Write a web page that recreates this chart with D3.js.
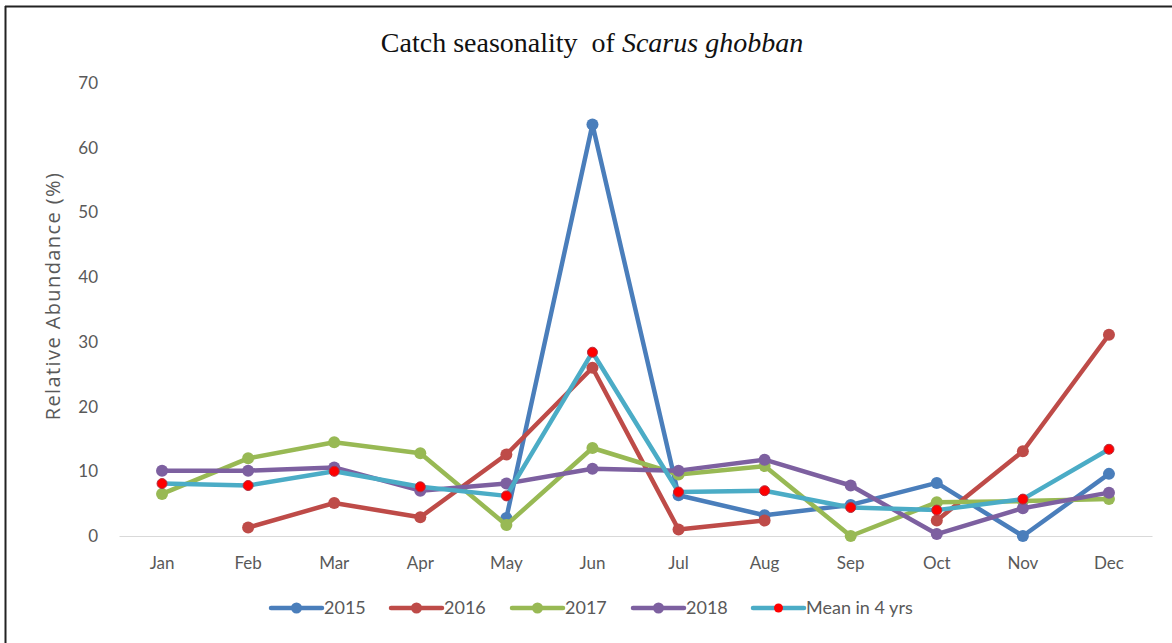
<!DOCTYPE html>
<html>
<head>
<meta charset="utf-8">
<script src="https://cdn.jsdelivr.net/npm/d3@7"></script>
<style>
  html, body { margin: 0; padding: 0; background: #fff; }
  svg { display: block; }
</style>
</head>
<body>
<svg id="chart" width="1172" height="643"></svg>
<script>
// Monthly relative abundance (%) of Scarus ghobban catches
const months = ["Jan","Feb","Mar","Apr","May","Jun","Jul","Aug","Sep","Oct","Nov","Dec"];
const yTicks = [0, 10, 20, 30, 40, 50, 60, 70];
const v2015 = [null, null, null, null, 2.8, 63.6, 6.3, 3.2, 4.8, 8.2, 0.0, 9.6];
const v2016 = [null, 1.3, 5.1, 2.9, 12.6, 26.0, 1.0, 2.4, null, 2.4, 13.1, 31.1];
const v2017 = [6.5, 12.0, 14.5, 12.8, 1.7, 13.6, 9.5, 10.8, 0.0, 5.2, 5.4, 5.7];
const v2018 = [10.1, 10.1, 10.6, 7.0, 8.1, 10.4, 10.1, 11.8, 7.8, 0.3, 4.3, 6.7];
const vMean = [8.1, 7.8, 10.0, 7.6, 6.2, 28.4, 6.8, 7.0, 4.4, 4.0, 5.7, 13.4];

const series = [
  { name: "2015", values: v2015, color: "#4a7ebb", dot: "#4a7ebb" },
  { name: "2016", values: v2016, color: "#be4b48", dot: "#be4b48" },
  { name: "2017", values: v2017, color: "#98b954", dot: "#98b954" },
  { name: "2018", values: v2018, color: "#7d60a0", dot: "#7d60a0" },
  { name: "Mean in 4 yrs", values: vMean, color: "#4bacc6", dot: "#ff0000" }
];

const svg = d3.select("#chart");
const labelFont = "Lato, 'Open Sans', 'Liberation Sans', sans-serif";
const textGray = "#595959";

// frame (top and left edges)
svg.append("line").attr("x1", 5.5).attr("x2", 5.5).attr("y1", 6).attr("y2", 643)
  .attr("stroke", "#222").attr("stroke-width", 2);
svg.append("line").attr("x1", 5).attr("x2", 1172).attr("y1", 6.5).attr("y2", 6.5)
  .attr("stroke", "#222").attr("stroke-width", 2);

const plot = { left: 119, right: 1152, top: 83, bottom: 536 };

const x = d3.scaleBand().domain(months).range([plot.left, plot.right]);
const y = d3.scaleLinear().domain([0, 70]).range([plot.bottom, plot.top]);
const cx = m => x(m) + x.bandwidth() / 2;

// title
const title = svg.append("text")
  .attr("x", 592).attr("y", 52)
  .attr("text-anchor", "middle")
  .attr("font-family", "'Liberation Serif', 'Times New Roman', serif")
  .attr("font-size", 28)
  .attr("fill", "#111");
title.append("tspan").text("Catch seasonality\u00a0 of ");
title.append("tspan").attr("font-style", "italic").text("Scarus ghobban");

// y axis tick labels (no axis line)
const yAxis = svg.append("g")
  .attr("transform", `translate(${plot.left},0)`)
  .call(d3.axisLeft(y).tickValues(yTicks).tickSize(0).tickPadding(21));
yAxis.select(".domain").remove();
yAxis.selectAll("text")
  .attr("font-family", labelFont).attr("font-size", 17).attr("fill", textGray);

// x axis baseline + labels
const xAxis = svg.append("g")
  .attr("transform", `translate(0,${plot.bottom})`)
  .call(d3.axisBottom(x).tickSize(0).tickPadding(21));
xAxis.select(".domain").attr("stroke", "#d9d9d9").attr("stroke-width", 1.2);
xAxis.selectAll("text")
  .attr("font-family", labelFont).attr("font-size", 17).attr("fill", textGray);

// y axis title
svg.append("text")
  .attr("transform", "translate(60,296) rotate(-90)")
  .attr("text-anchor", "middle")
  .attr("font-family", "'Open Sans', 'Liberation Sans', sans-serif")
  .attr("font-size", 20)
  .attr("letter-spacing", 1.4)
  .attr("fill", textGray)
  .text("Relative Abundance (%)");

// lines and markers
const line = d3.line()
  .defined(d => d.v !== null)
  .x(d => cx(d.m))
  .y(d => y(d.v));

series.forEach(s => {
  const pts = months.map((m, i) => ({ m, v: s.values[i] }));
  const g = svg.append("g");
  g.append("path")
    .datum(pts)
    .attr("d", line)
    .attr("fill", "none")
    .attr("stroke", s.color)
    .attr("stroke-width", 4.5)
    .attr("stroke-linejoin", "round")
    .attr("stroke-linecap", "round");
  g.selectAll("circle")
    .data(pts.filter(d => d.v !== null))
    .join("circle")
    .attr("cx", d => cx(d.m))
    .attr("cy", d => y(d.v))
    .attr("r", s.dot === s.color ? 6 : 5)
    .attr("fill", s.dot)
    .attr("stroke", s.dot === s.color ? s.color : "#b03040")
    .attr("stroke-width", s.dot === s.color ? 0 : 1);
});

// legend
const legendX = [271, 391, 512, 633, 753];
const legend = svg.append("g").attr("transform", "translate(0,608)");
series.forEach((s, i) => {
  const g = legend.append("g").attr("transform", `translate(${legendX[i]},0)`);
  g.append("line").attr("x1", 0).attr("x2", 51).attr("y1", 0).attr("y2", 0)
    .attr("stroke", s.color).attr("stroke-width", 4.5).attr("stroke-linecap", "round");
  g.append("circle").attr("cx", 25.5).attr("cy", 0)
    .attr("r", s.dot === s.color ? 5.5 : 4.5)
    .attr("fill", s.dot);
  g.append("text").attr("x", 53).attr("y", 0).attr("dy", "0.35em")
    .attr("font-family", labelFont).attr("font-size", 18).attr("fill", textGray)
    .text(s.name);
});
</script>
</body>
</html>
